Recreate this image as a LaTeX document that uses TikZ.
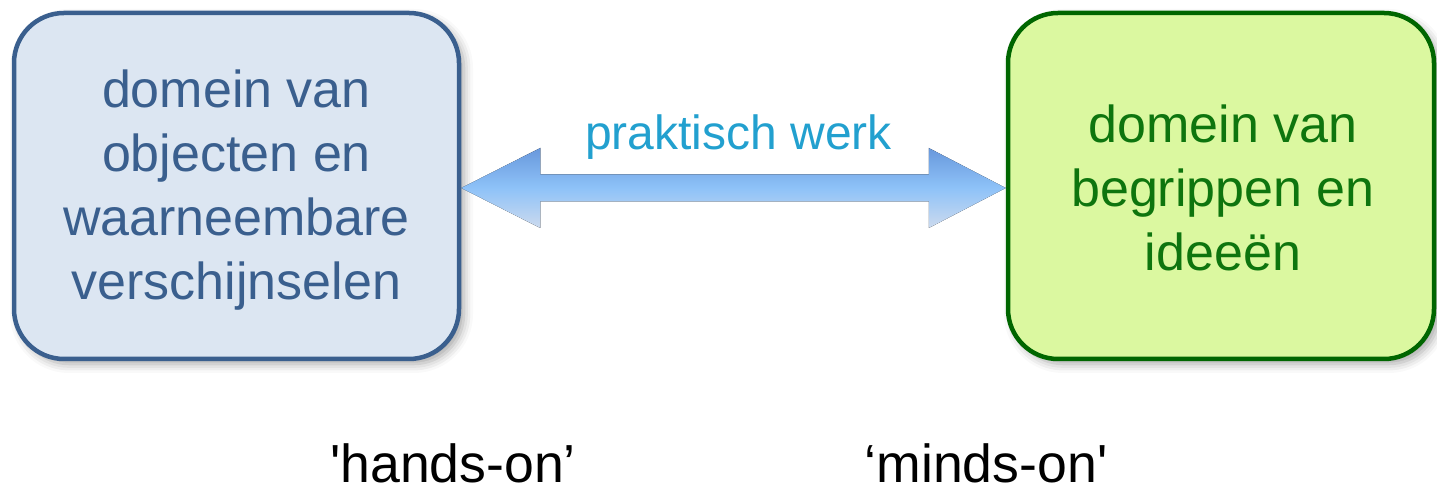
\documentclass[tikz,border=0pt]{standalone}
\usepackage{fontspec}
\setmainfont{Liberation Sans}
\usetikzlibrary{shadows.blur,calc}
\definecolor{lbfill}{HTML}{DCE6F2}
\definecolor{lbline}{HTML}{3A5F8E}
\definecolor{lbtext}{HTML}{3A5F8E}
\definecolor{rgfill}{HTML}{DBF8A0}
\definecolor{rgline}{HTML}{006600}
\definecolor{rgtext}{HTML}{0E750E}
\definecolor{arrtext}{HTML}{22A0CF}
\definecolor{arrtop}{HTML}{6898DC}
\definecolor{arrmid}{HTML}{8EC2F8}
\definecolor{arrbot}{HTML}{CCDAEE}
\begin{document}
\begin{tikzpicture}[x=0.5pt,y=-0.5pt,
  domainbox/.style={rounded corners=25pt, line width=2.25pt,
    minimum height=173pt, inner sep=0pt,
    blur shadow={shadow xshift=2.5pt, shadow yshift=-2.5pt, shadow blur radius=4.5pt, shadow opacity=35}},
  lbox/.style={domainbox, draw=lbline, fill=lbfill, minimum width=222.5pt},
  rbox/.style={domainbox, draw=rgline, fill=rgfill, minimum width=213pt},
  boxtext/.style={align=center, inner sep=0pt, font=\fontsize{26}{32}\selectfont},
  fatarrow/.style={top color=arrtop, bottom color=arrbot, middle color=arrmid},
  arrlabel/.style={text=arrtext, font=\fontsize{24}{28}\selectfont, inner sep=0pt, anchor=base},
  bottomlabel/.style={text=black, font=\fontsize{26.8}{30}\selectfont, inner sep=0pt, anchor=base, text depth=0pt}]
\useasboundingbox (0,0) rectangle (1437,490);
\node[lbox] (L) at (236.5,186) {};
\node[rbox] (R) at (1221,186) {};
\node[boxtext, text=lbtext] (Lt) at ($(L.center)+(0,4)$) {domein van\\objecten en\\waarneembare\\verschijnselen};
\node[boxtext, text=rgtext] (Rt) at ($(R.center)+(2,2)$) {domein van\\begrippen en\\ideeën};
\coordinate (a1) at ($(L.east)+(0,2)$);
\coordinate (a2) at ($(R.west)+(0,2)$);
\fill[fatarrow] (a1) -- ($(a1)+(79,-40)$) -- ($(a1)+(79,-13.5)$) -- ($(a2)+(-77,-13.5)$)
  -- ($(a2)+(-77,-40)$) -- (a2) -- ($(a2)+(-77,40)$) -- ($(a2)+(-77,13.5)$)
  -- ($(a1)+(79,13.5)$) -- ($(a1)+(79,40)$) -- cycle;
\node[arrlabel] (p) at ($(a1)!0.5!(a2)+(5,-38)$) {praktisch werk};
\node[bottomlabel] (h) at (453,483) {\textquotesingle hands-on’};
\node[bottomlabel] (m) at (986,483) {‘minds-on\textquotesingle};
\end{tikzpicture}
\end{document}
